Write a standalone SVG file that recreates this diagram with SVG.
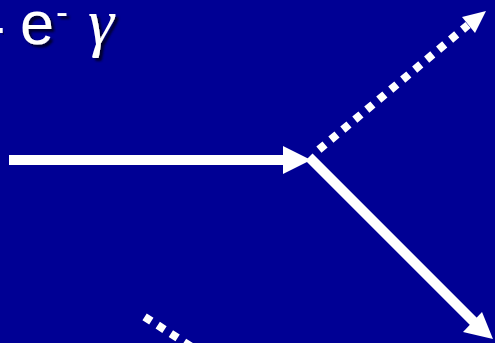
<svg xmlns="http://www.w3.org/2000/svg" width="495" height="343" viewBox="0 0 495 343">
<defs>
<style>
.solid{stroke:#fff;stroke-width:10;fill:none}
.dots{stroke:#fff;stroke-width:8;fill:none;stroke-dasharray:8 7.6}
.head{fill:#fff}
.lbl{fill:#fff;filter:url(#sh)}
</style>
<filter id="sh" x="-20%" y="-20%" width="150%" height="150%">
<feDropShadow dx="3" dy="3" stdDeviation="0.8" flood-color="#000020" flood-opacity="0.9"/>
</filter>
</defs>
<rect width="495" height="343" fill="#000094"/>
<rect x="0" y="28" width="2.7" height="5" fill="#fff" filter="url(#sh)"/>
<g id="label-e">
<text class="lbl" x="20" y="44" font-family="Liberation Sans, Arial, sans-serif" font-size="61">e<tspan font-size="36" dx="2" dy="-20">-</tspan></text>
</g>
<g id="label-gamma">
<text class="lbl" x="88" y="44" font-family="Liberation Serif, Times New Roman, serif" font-style="italic" font-size="66">γ</text>
</g>
<g id="connectors">
<line class="solid" x1="9" y1="160" x2="286" y2="160"/>
<polygon class="head" points="283,146 311,160 283,174"/>
<line class="solid" x1="309" y1="157" x2="475" y2="323"/>
<polygon class="head" points="493,339 463,332 482,312"/>
<line class="dots" x1="318.9" y1="149.6" x2="468" y2="25"/>
<polygon class="head" points="486,11 462,17 475,33"/>
<line class="dots" x1="144.6" y1="316.8" x2="205" y2="355.5"/>
</g>
</svg>
